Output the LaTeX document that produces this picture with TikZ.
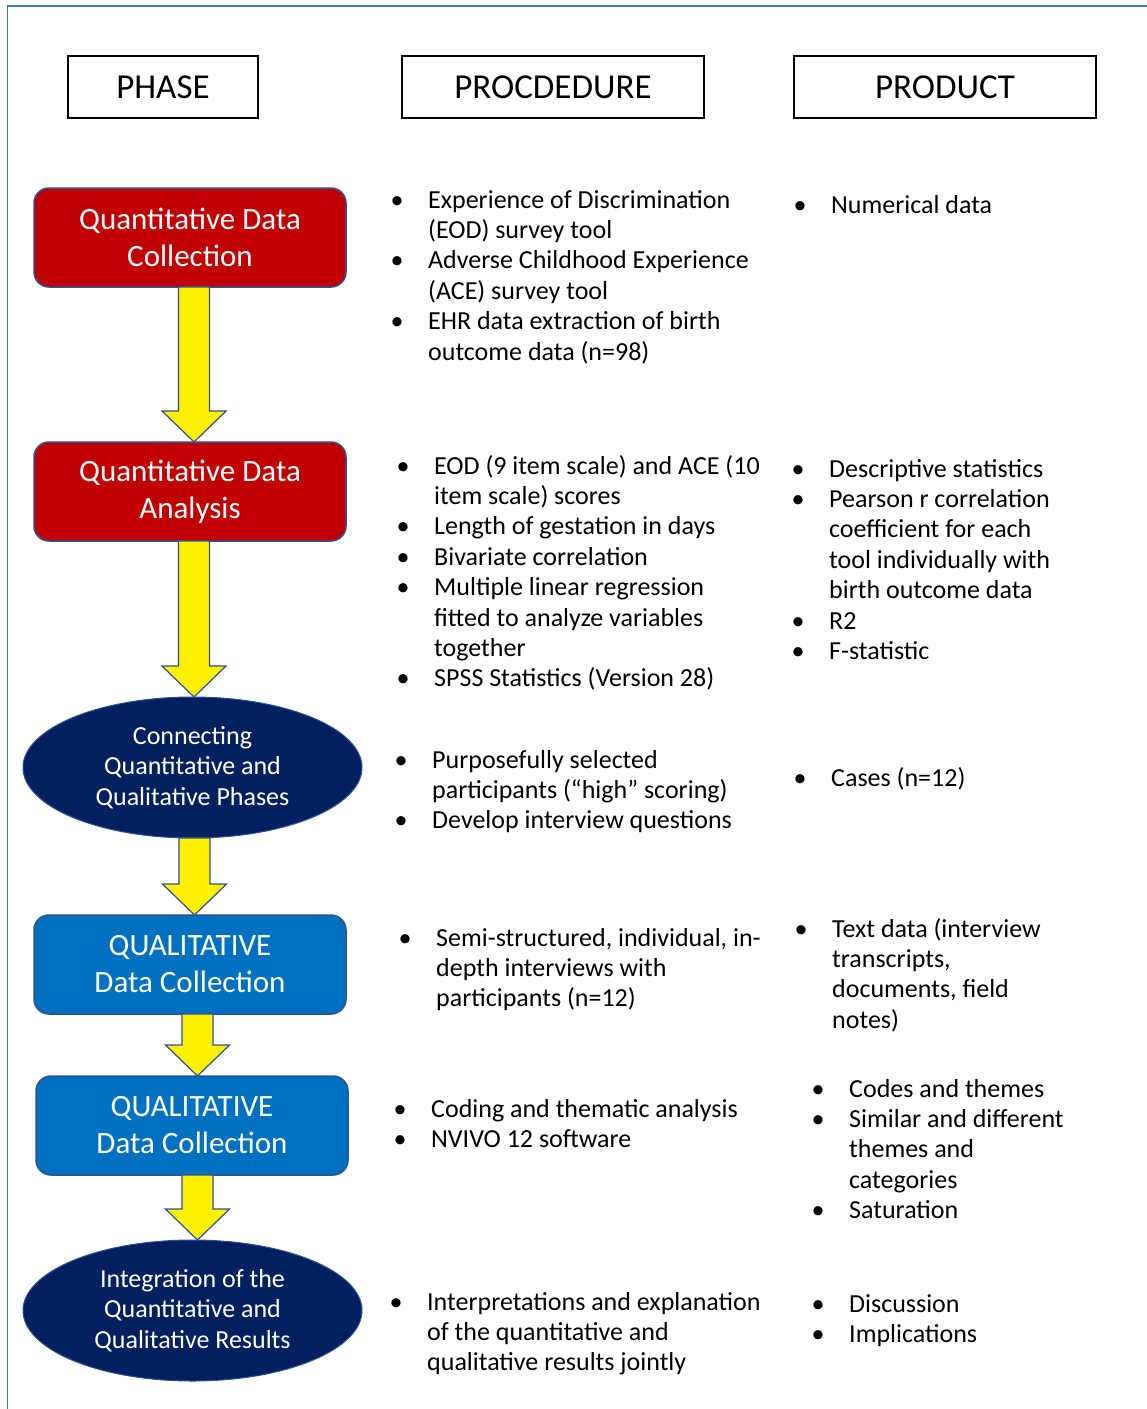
\documentclass[tikz,border=0pt]{standalone}
\usepackage{fontspec}
\setmainfont{Carlito}
\usepackage{xcolor}
\usepackage{tikz}
\usetikzlibrary{shapes,positioning,calc}
\definecolor{qred}{HTML}{C00000}
\definecolor{qblue}{HTML}{0070C0}
\definecolor{qnavy}{HTML}{002060}
\definecolor{qedge}{HTML}{2F528F}
\definecolor{qframe}{HTML}{4472C4}
\newcommand{\bul}{\makebox[62pt][c]{\textbullet}}
% yellow block arrow between two phases
\newcommand{\flowarrow}[3][0]{%
  \path [flow] let \p1=($(#2.south)+(#1,0)$), \p2=(#3.north) in
    (\x1-15.5pt,\y1) -- (\x1-15.5pt,\y2+31pt) -- (\x1-32pt,\y2+31pt) -- (\x1,\y2)
    -- (\x1+32pt,\y2+31pt) -- (\x1+15.5pt,\y2+31pt) -- (\x1+15.5pt,\y1) -- cycle;}

\begin{document}
\begin{tikzpicture}[
    x=1pt, y=-1pt,
    header/.style={
      rectangle,
      draw,
      line width=1.5pt,
      minimum height=62pt,
      font=\fontsize{35}{40}\selectfont
    },
    phasebox/.style={
      rectangle,
      draw=qedge,
      line width=1.5pt,
      outer sep=0pt,
      rounded corners=15pt,
      minimum width=312pt,
      minimum height=99pt,
      align=center,
      text=white,
      font=\fontsize{31}{37}\selectfont
    },
    linkell/.style={
      ellipse,
      draw=qedge,
      line width=1pt,
      outer sep=0pt,
      fill=qnavy,
      inner sep=0pt,
      minimum width=339pt,
      minimum height=141pt,
      align=center,
      text=white,
      font=\fontsize{26}{30.5}\selectfont
    },
    itemtext/.style={
      anchor=base west,
      inner sep=0pt,
      font=\fontsize{26}{30.4}\selectfont
    },
    flow/.style={draw=qedge, line width=1.2pt, fill=yellow, line join=miter},
]
    \fill [white] (0,0) rectangle (1147,1409);
    \useasboundingbox (0,0) rectangle (1147,1409);
    \draw [qframe, line width=1.5pt] (7.5,1409) -- (7.5,6) -- (1147,6);

    % column heads
    \node [header, minimum width=190pt] (phase) at (163,87) {PHASE};
    \node [header, minimum width=302pt] (procedure) at (553,87) {PROCDEDURE};
    \node [header, minimum width=302pt] (product) at (945,87) {PRODUCT};

    % phases
    \node [phasebox, fill=qred] (quancoll) at (190,237.5) {Quantitative Data\\Collection};
    \node [phasebox, fill=qred, below=155pt of quancoll] (quanana) {Quantitative Data\\Analysis};
    \node [linkell, below=156pt of quanana, xshift=2.5pt] (connect) {Connecting\\Quantitative and\\Qualitative Phases};
    \node [phasebox, fill=qblue, below=77pt of connect, xshift=-2.5pt] (qualcoll) {QUALITATIVE\\Data Collection};
    \node [phasebox, fill=qblue, below=62pt of qualcoll, xshift=2pt] (qualana) {QUALITATIVE\\Data Collection};
    \node [linkell, below=65pt of qualana, xshift=0.5pt] (integrate) {Integration of the\\Quantitative and\\Qualitative Results};

    \flowarrow[4]{quancoll}{quanana}
    \flowarrow[4]{quanana}{connect}
    \flowarrow[2]{connect}{qualcoll}
    \flowarrow[7.5]{qualcoll}{qualana}
    \flowarrow[5.5]{qualana}{integrate}

    % procedures
    \node [itemtext] (proc1) at (366,208) {\begin{tabular}[t]{@{}l@{}l@{}}
      \bul & Experience of Discrimination\\
           & (EOD) survey tool\\
      \bul & Adverse Childhood Experience\\
           & (ACE) survey tool\\
      \bul & EHR data extraction of birth\\
           & outcome data (n=98)
    \end{tabular}};
    \node [itemtext] (proc2) at (372,474) {\begin{tabular}[t]{@{}l@{}l@{}}
      \bul & EOD (9 item scale) and ACE (10\\
           & item scale) scores\\
      \bul & Length of gestation in days\\
      \bul & Bivariate correlation\\
      \bul & Multiple linear regression\\
           & fitted to analyze variables\\
           & together\\
      \bul & SPSS Statistics (Version 28)
    \end{tabular}};
    \node [itemtext] (proc3) at (370,768) {\begin{tabular}[t]{@{}l@{}l@{}}
      \bul & Purposefully selected\\
           & participants (“high” scoring)\\
      \bul & Develop interview questions
    \end{tabular}};
    \node [itemtext] (proc4) at (374,946) {\begin{tabular}[t]{@{}l@{}l@{}}
      \bul & Semi-structured, individual, in-\\
           & depth interviews with\\
           & participants (n=12)
    \end{tabular}};
    \node [itemtext] (proc5) at (369,1117) {\begin{tabular}[t]{@{}l@{}l@{}}
      \bul & Coding and thematic analysis\\
      \bul & NVIVO 12 software
    \end{tabular}};
    \node [itemtext] (proc6) at (365,1310) {\begin{tabular}[t]{@{}l@{}l@{}}
      \bul & Interpretations and explanation\\
           & of the quantitative and\\
           & qualitative results jointly
    \end{tabular}};

    % products
    \node [itemtext] (prod1) at (769,213) {\begin{tabular}[t]{@{}l@{}l@{}}
      \bul & Numerical data
    \end{tabular}};
    \node [itemtext] (prod2) at (767,477) {\begin{tabular}[t]{@{}l@{}l@{}}
      \bul & Descriptive statistics\\
      \bul & Pearson r correlation\\
           & coefficient for each\\
           & tool individually with\\
           & birth outcome data\\
      \bul & R2\\
      \bul & F-statistic
    \end{tabular}};
    \node [itemtext] (prod3) at (769,786) {\begin{tabular}[t]{@{}l@{}l@{}}
      \bul & Cases (n=12)
    \end{tabular}};
    \node [itemtext] (prod4) at (770,937) {\begin{tabular}[t]{@{}l@{}l@{}}
      \bul & Text data (interview\\
           & transcripts,\\
           & documents, field\\
           & notes)
    \end{tabular}};
    \node [itemtext] (prod5) at (787,1097) {\begin{tabular}[t]{@{}l@{}l@{}}
      \bul & Codes and themes\\
      \bul & Similar and different\\
           & themes and\\
           & categories\\
      \bul & Saturation
    \end{tabular}};
    \node [itemtext] (prod6) at (787,1312) {\begin{tabular}[t]{@{}l@{}l@{}}
      \bul & Discussion\\
      \bul & Implications
    \end{tabular}};

\end{tikzpicture}
\end{document}
